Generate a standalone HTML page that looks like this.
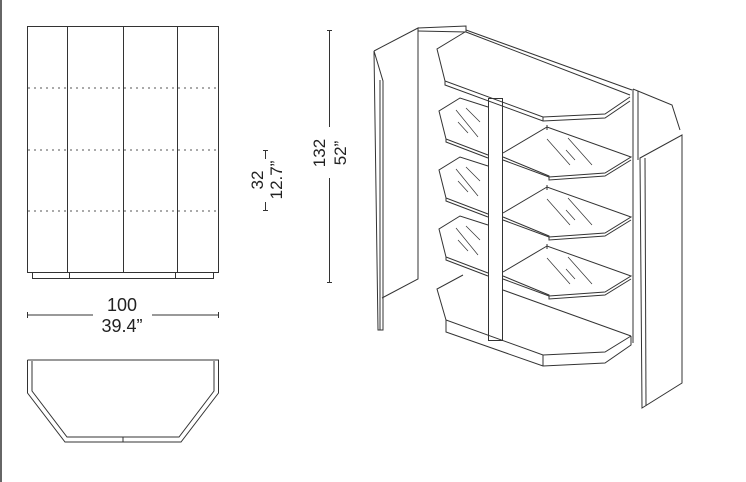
<!DOCTYPE html>
<html><head><meta charset="utf-8"><style>
html,body{margin:0;padding:0;background:#fff;}
svg{display:block;}
text{font-family:"Liberation Sans",sans-serif;fill:#222;}
</style></head><body>
<svg width="746" height="482" viewBox="0 0 746 482" xmlns="http://www.w3.org/2000/svg">
<g stroke="#333" stroke-width="1" fill="none">
<line x1="1" y1="0" x2="1" y2="482" stroke-width="1.5"/>
<rect x="27.5" y="26.5" width="191" height="246"/>
<line x1="67.5" y1="26" x2="67.5" y2="272"/>
<line x1="123.5" y1="26" x2="123.5" y2="272"/>
<line x1="177.5" y1="26" x2="177.5" y2="272"/>
<g stroke-dasharray="2,4" stroke="#555">
<line x1="28" y1="88" x2="218" y2="88"/>
<line x1="28" y1="150" x2="218" y2="150"/>
<line x1="28" y1="211" x2="218" y2="211"/>
</g>
<rect x="32.5" y="272.5" width="181" height="6"/>
<line x1="69.5" y1="273" x2="69.5" y2="279"/>
<line x1="175.5" y1="273" x2="175.5" y2="279"/>
<line x1="27" y1="315" x2="93" y2="315"/>
<line x1="152" y1="315" x2="218" y2="315"/>
<line x1="27.5" y1="312" x2="27.5" y2="318"/>
<line x1="218.5" y1="312" x2="218.5" y2="318"/>
<polyline points="27.5,360 27.5,393 65,442 181,442 218.5,393 218.5,360 27.5,360"/>
<polyline points="32,361 32,391 67,437 179,437 214,391 214,361"/>
<line x1="123" y1="437" x2="123" y2="442"/>
<line x1="265.5" y1="150" x2="265.5" y2="159"/>
<line x1="265.5" y1="202" x2="265.5" y2="211"/>
<line x1="263" y1="150.5" x2="268" y2="150.5"/>
<line x1="263" y1="210.5" x2="268" y2="210.5"/>
<line x1="329.5" y1="30" x2="329.5" y2="127"/>
<line x1="329.5" y1="178" x2="329.5" y2="283"/>
<line x1="327" y1="30.5" x2="332" y2="30.5"/>
<line x1="327" y1="282.5" x2="332" y2="282.5"/>

<polyline points="374,51 418,28 418,279 382,298"/>
<polyline points="374,51 383,81 383,330 378,330 374,51"/>
<line x1="380" y1="80" x2="380" y2="330"/>
<polyline points="418,28 466,26 466,32 418,31"/>
<line x1="466" y1="30" x2="632" y2="90"/>
<line x1="466" y1="32" x2="630" y2="95"/>
<polyline points="465,32 437,49 445,81 543,117 605,114 630,97"/>
<polyline points="445,81 445,85 543,121 605,118 630,101"/>
<line x1="543" y1="117" x2="543" y2="121"/>
<polyline points="633,89 672,105 680,130"/>
<line x1="633" y1="89" x2="633" y2="343"/>
<line x1="638" y1="91" x2="638" y2="160"/>
<polygon points="640,158 682,135 682,383 642,408"/>
<line x1="645" y1="158" x2="646" y2="406"/>
<rect x="488.5" y="98.5" width="14" height="242"/>
<polyline points="463,275 437,289 446,320 543,355 605,352 631,336"/>
<polyline points="446,320 446,332 543,366 605,363 631,345 631,336"/>
<line x1="543" y1="355" x2="543" y2="366"/>
<line x1="503" y1="290" x2="631" y2="336"/>
<g id="ls">
<polyline points="488,107 460,98 439,111 446,139 488,155"/>
<polyline points="446,139 446,142 488,158"/>
<line x1="456" y1="110" x2="478" y2="137" stroke-width="0.7"/>
<line x1="466" y1="108" x2="480" y2="122" stroke-width="0.7"/>
<line x1="458" y1="122" x2="468" y2="133" stroke-width="0.7"/>
</g>
<use href="#ls" y="59"/>
<use href="#ls" y="118"/>
<g id="rs">
<polyline points="503,153 547,127 631,157 605,173 549,177 503,160"/>
<polyline points="503,157 549,176 549,180 605,176 631,160"/>
<line x1="547" y1="125" x2="547" y2="130"/>
<line x1="547" y1="139" x2="570" y2="165" stroke-width="0.7"/>
<line x1="568" y1="138" x2="592" y2="165" stroke-width="0.7"/>
<line x1="566" y1="150" x2="575" y2="160" stroke-width="0.7"/>
</g>
<use href="#rs" y="60"/>
<use href="#rs" y="119"/>
</g>
<text x="122" y="311" font-size="18" text-anchor="middle">100</text>
<text x="122" y="332" font-size="18" text-anchor="middle">39.4”</text>
<text transform="translate(263,180) rotate(-90)" font-size="17" text-anchor="middle">32</text>
<text transform="translate(282,180) rotate(-90)" font-size="17" text-anchor="middle">12.7”</text>
<text transform="translate(325,153) rotate(-90)" font-size="17" text-anchor="middle">132</text>
<text transform="translate(346,153) rotate(-90)" font-size="17" text-anchor="middle">52”</text>
</svg>
</body></html>
